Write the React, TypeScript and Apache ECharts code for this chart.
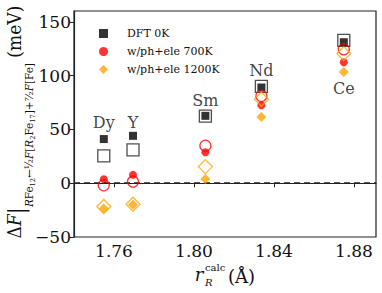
import React, { useEffect, useRef } from "react";
import * as echarts from "echarts";

const elements = ["Dy", "Y", "Sm", "Nd", "Ce"];
const rCalc = [1.7549, 1.7695, 1.8057, 1.8337, 1.8749];
const dft0K = [41, 44, 62.6, 88.9, 131];
const dft0KOpen = [25.3, 31, 62.4, 90, 132.7];
const ph700 = [3.7, 7.7, 28.7, 72.5, 112.3];
const ph700Open = [-1.9, 1.5, 34.8, 81, 124.4];
const ph1200 = [-23.5, -20, 4, 61.4, 103.3];
const ph1200Open = [-21.7, -19.5, 15.4, 78, 120.4];
const labelY = [56.8, 56, 76.7, 104.4, 87.8];
const xTicks = [1.76, 1.8, 1.84, 1.88];
const yTicks = [-50, 0, 50, 100, 150];
const legendNames = ["DFT 0K", "w/ph+ele 700K", "w/ph+ele 1200K"];

const SERIF = "DejaVu Serif";
const BLACK = "#000000";
const RED = "#ff0000";
const ORANGE = "#ffa500";

const pts = (ys: number[]) => rCalc.map((x, i) => [x, ys[i]]);

export default function App() {
  const ref = useRef<HTMLDivElement>(null);
  useEffect(() => {
    if (!ref.current) return;
    const chart = echarts.init(ref.current, null, { renderer: "svg" });
    const sub = { fontFamily: SERIF, fontSize: 11, fill: "#111", verticalAlign: "top", padding: [18, 0, 0, 0] };
    const subI = { ...sub, fontStyle: "italic" };
    const subSub = { fontFamily: SERIF, fontSize: 7, fill: "#111", verticalAlign: "top", padding: [24, 0, 0, 0] };
    const main = { fontFamily: SERIF, fontSize: 18, fill: "#111", verticalAlign: "top", lineHeight: 22 };
    const mainI = { ...main, fontStyle: "italic" };
    const yName =
      "{m|Δ}{mi|F}{bar||}{si|R}{s|Fe}{ss|12}{s|←½}{si|F}{s|[}{si|R}{ss|2}{s|Fe}{ss|17}{s|]+⁷⁄₂}{si|F}{s|[Fe]}{m| (meV)}";
    chart.setOption({
      animation: false,
      textStyle: { fontFamily: SERIF },
      grid: { left: 74, right: 6, top: 11, bottom: 56, show: true, borderColor: "#222", borderWidth: 1.2, backgroundColor: "transparent" },
      xAxis: {
        type: "value",
        min: 1.74,
        max: 1.891,
        axisLine: { show: true, lineStyle: { color: "#222", width: 1.2 } },
        axisTick: { show: true, inside: false, length: 4, customValues: xTicks, lineStyle: { color: "#222" } },
        axisLabel: {
          customValues: xTicks,
          formatter: (v: number) => v.toFixed(2),
          fontFamily: SERIF,
          fontSize: 17,
          color: "#111",
          margin: 5,
        },
        splitLine: { show: false },
      },
      yAxis: {
        type: "value",
        min: -50,
        max: 160,
        axisLine: { show: true, lineStyle: { color: "#222", width: 1.2 } },
        axisTick: { show: true, inside: false, length: 4, customValues: yTicks, lineStyle: { color: "#222" } },
        axisLabel: {
          customValues: yTicks,
          formatter: (v: number) => (v < 0 ? "−" + Math.abs(v) : String(v)),
          fontFamily: SERIF,
          fontSize: 17,
          color: "#111",
          margin: 3,
        },
        splitLine: { show: false },
      },
      legend: {
        left: 94,
        top: 23,
        orient: "vertical",
        itemWidth: 9,
        itemHeight: 9,
        itemGap: 7,
        data: [
          { name: legendNames[0], icon: "rect" },
          { name: legendNames[1], icon: "circle" },
          { name: legendNames[2], icon: "diamond" },
        ],
        formatter: (n: string) => "{g| }{t|" + n + "}",
        textStyle: {
          fontFamily: SERIF,
          fontSize: 11,
          color: "#111",
          rich: {
            g: { width: 14, fontSize: 11 },
            t: { fontFamily: SERIF, fontSize: 11, color: "#111" },
          },
        },
      },
      graphic: [
        {
          type: "text",
          x: 21,
          y: 122,
          rotation: Math.PI / 2,
          scaleX: 0.95,
          style: {
            text: yName,
            align: "center",
            verticalAlign: "middle",
            fontFamily: SERIF,
            fontSize: 18,
            fill: "#111",
            rich: {
              m: main,
              mi: mainI,
              bar: { ...main, fontSize: 22, lineHeight: 24 },
              s: sub,
              si: subI,
              ss: subSub,
            },
          },
        },
        { type: "text", x: 199, y: 274, style: { text: "r", fontFamily: SERIF, fontStyle: "italic", fontSize: 18, fill: "#111", align: "center", verticalAlign: "middle" } },
        { type: "text", x: 205, y: 267, style: { text: "calc", fontFamily: SERIF, fontSize: 10, fill: "#111", align: "left", verticalAlign: "middle" } },
        { type: "text", x: 205, y: 282, style: { text: "R", fontFamily: SERIF, fontStyle: "italic", fontSize: 10, fill: "#111", align: "left", verticalAlign: "middle" } },
        { type: "text", x: 228, y: 276, style: { text: "(Å)", fontFamily: SERIF, fontSize: 18, fill: "#111", align: "left", verticalAlign: "middle" } },
      ],
      series: [
        {
          name: legendNames[0],
          type: "scatter",
          symbol: "rect",
          symbolSize: 8,
          itemStyle: { color: BLACK },
          data: pts(dft0K),
          z: 2,
          markLine: {
            silent: true,
            symbol: "none",
            label: { show: false },
            lineStyle: { color: "#222", type: [6, 4], width: 1.5 },
            data: [{ yAxis: 0 }],
          },
        },
        {
          name: "DFT 0K (open)",
          type: "scatter",
          symbol: "rect",
          symbolSize: 12,
          itemStyle: { color: "transparent", borderColor: "#222", borderWidth: 1.3 },
          data: pts(dft0KOpen),
          z: 3,
        },
        {
          name: legendNames[1],
          type: "scatter",
          symbol: "circle",
          symbolSize: 8,
          itemStyle: { color: RED },
          data: pts(ph700),
          z: 4,
        },
        {
          name: "700K (open)",
          type: "scatter",
          symbol: "circle",
          symbolSize: 11,
          itemStyle: { color: "transparent", borderColor: RED, borderWidth: 1.3 },
          data: pts(ph700Open),
          z: 5,
        },
        {
          name: legendNames[2],
          type: "scatter",
          symbol: "diamond",
          symbolSize: 10,
          itemStyle: { color: ORANGE },
          data: pts(ph1200),
          z: 6,
        },
        {
          name: "1200K (open)",
          type: "scatter",
          symbol: "diamond",
          symbolSize: 14,
          itemStyle: { color: "transparent", borderColor: ORANGE, borderWidth: 1.3 },
          data: pts(ph1200Open),
          z: 7,
        },
        {
          name: "labels",
          type: "scatter",
          symbolSize: 0,
          silent: true,
          data: rCalc.map((x, i) => ({ name: elements[i], value: [x, labelY[i]] })),
          label: {
            show: true,
            position: "inside",
            formatter: (p: any) => p.name,
            fontFamily: SERIF,
            fontSize: 16,
            color: "#111",
          },
          z: 8,
        },
      ],
    });
    return () => chart.dispose();
  }, []);
  return <div ref={ref} style={{ width: 382, height: 293, position: "absolute", left: 0, top: 0 }} />;
}
